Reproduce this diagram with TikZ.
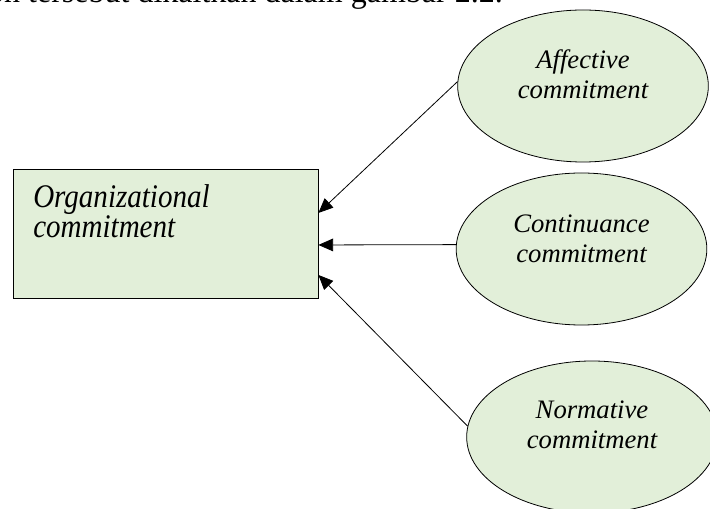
\documentclass[tikz,border=0pt]{standalone}
\usepackage{fontspec}
\setmainfont{Liberation Serif}
\newfontfamily\narrowserif[FakeStretch=0.88]{Liberation Serif}
\usetikzlibrary{shapes.geometric,arrows.meta}
\definecolor{lightgreen}{HTML}{E2EFD9}

\begin{document}
\begin{tikzpicture}[x=0.75pt,y=-0.75pt,
   >={Triangle[length=11pt,width=9.5pt]},
   orgbox/.style={draw,line width=0.6pt,fill=lightgreen,minimum width=228.75pt,minimum height=96.75pt,inner sep=0pt},
   dim/.style={draw,ellipse,line width=0.6pt,fill=lightgreen,minimum width=188pt,minimum height=114pt,inner sep=0pt},
   boxtext/.style={align=left,inner sep=0pt,font=\narrowserif\itshape\fontsize{24.75pt}{22.5pt}\selectfont},
   dimtext/.style={align=center,inner sep=0pt,font=\itshape\fontsize{20pt}{22.5pt}\selectfont}]
   \useasboundingbox (0,0) rectangle (710,509);
   \clip (0,0) rectangle (710,509);
   % line of text cut off at the top
   \node[anchor=base east,inner sep=0pt,font=\fontsize{24pt}{28pt}\selectfont] (caption) at (503,3) {on tersebut dikaitkan dalam gambar 2.2.};
   % the box
   \node[orgbox] (org) at (165.5,233.5) {};
   \node[boxtext,anchor=north west] (orgtext) at (33,184) {Organizational\\commitment};
   % the three dimensions
   \node[dim] (aff) at (583,86) {};
   \node[dimtext] (afftext) at ([yshift=8.6pt]aff.center) {Affective\\commitment};
   \node[dim] (con) at (581.5,249) {};
   \node[dimtext] (context) at ([yshift=7.9pt]con.center) {Continuance\\commitment};
   \node[dim] (nor) at (592,437) {};
   \node[dimtext] (nortext) at ([yshift=9pt]nor.center) {Normative\\commitment};
   \foreach \e/\a/\s in {aff/178/15.4pt,con/178/-8.6pt,nor/175/-31.1pt} {
    \draw[->,line width=0.6pt] (\e.\a) -- ([yshift=\s]org.east);
   }
  \end{tikzpicture}
\end{document}
